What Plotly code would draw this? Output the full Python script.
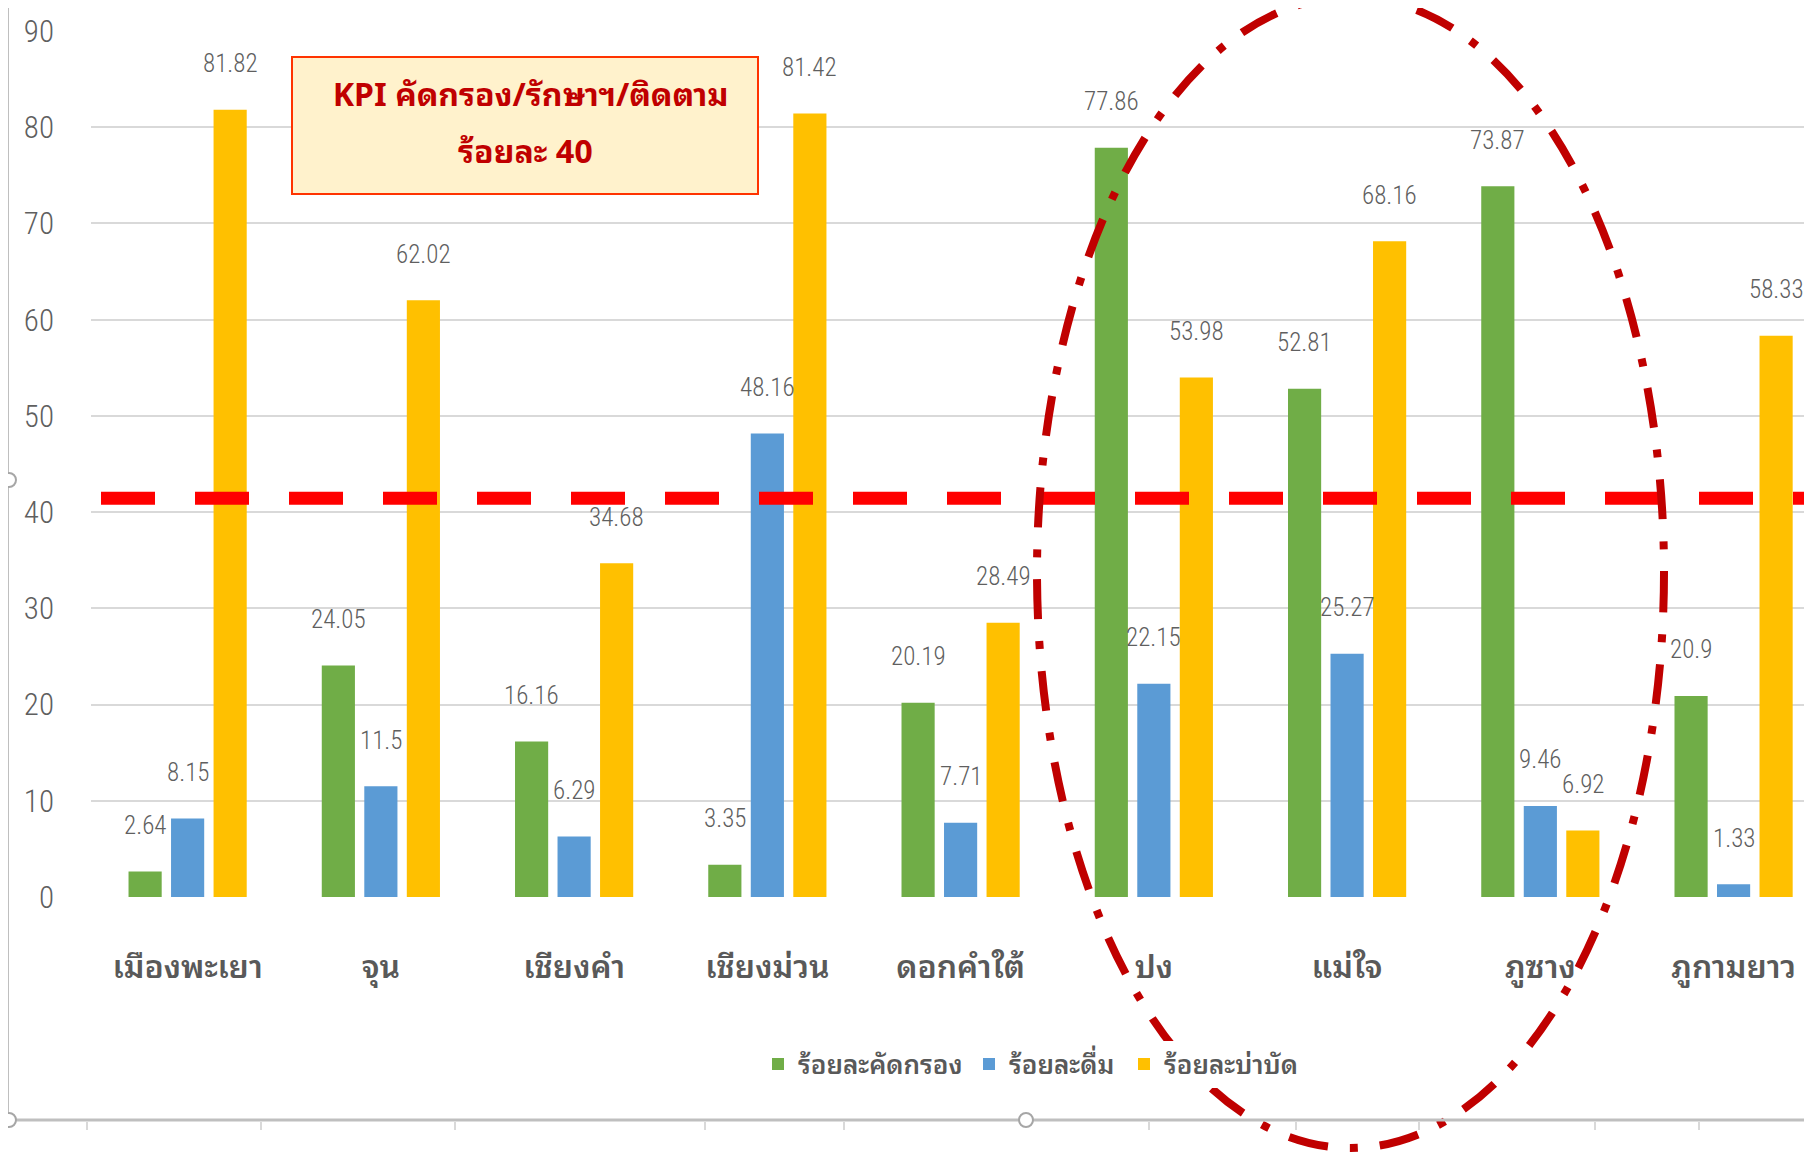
import plotly.graph_objects as go

# ข้อมูล
districts = ['เมืองพะเยา', 'จุน', 'เชียงคำ', 'เชียงม่วน', 'ดอกคำใต้', 'ปง', 'แม่ใจ', 'ภูซาง', 'ภูกามยาว']
screen_pct = [2.64, 24.05, 16.16, 3.35, 20.19, 77.86, 52.81, 73.87, 20.9]
drink_pct = [8.15, 11.5, 6.29, 48.16, 7.71, 22.15, 25.27, 9.46, 1.33]
treat_pct = [81.82, 62.02, 34.68, 81.42, 28.49, 53.98, 68.16, 6.92, 58.33]
series_names = ['ร้อยละคัดกรอง', 'ร้อยละดื่ม', 'ร้อยละบ่าบัด']
colors = ['#70AD47', '#5B9BD5', '#FFC000']
kpi_line = 41.45

# หน้าเว็บมี margin 8px รอบ body
OFF = 8
W, H = 1812 - OFF, 1153 - OFF
L, T, B = 91 - OFF, 31 - OFF, 256
plot_w = W - L
plot_h = H - T - B


def px2x(px):
    return (px - OFF - L) / plot_w


def py2y(py):
    return (H - B - (py - OFF)) / plot_h


num_font = 'Liberation Sans Narrow, Arial Narrow, Roboto Condensed, Liberation Sans'
thai_font = 'Noto Sans Thai Looped, Loma, Garuda, Noto Sans Thai, sans-serif'

fig = go.Figure()
legends = ['legend', 'legend2', 'legend3']
for name, vals, c, lg in zip(series_names, [screen_pct, drink_pct, treat_pct], colors, legends):
    fig.add_trace(go.Bar(x=districts, y=vals, name=name, legend=lg, showlegend=True,
                         marker=dict(color=c, line=dict(width=0))))

# ป้ายค่า
slot = 42.5
for k, vals in enumerate([screen_pct, drink_pct, treat_pct]):
    for d, v in zip(districts, vals):
        fig.add_annotation(x=d, y=v, text=f'{v:g}', showarrow=False,
                           xshift=(k - 1) * slot, yshift=46, yanchor='middle',
                           font=dict(family=num_font, size=25, color='#5F5F5F', weight=300))

# เส้น KPI
fig.add_shape(type='line', xref='paper', yref='y', x0=px2x(101), x1=1.0, y0=kpi_line, y1=kpi_line,
              line=dict(color='#FF0000', width=13, dash='54px,40px'))

# กล่องข้อความ KPI
fig.add_shape(type='rect', xref='paper', yref='paper', x0=px2x(292), x1=px2x(758), y0=py2y(194), y1=py2y(57),
              fillcolor='#FFF2CC', line=dict(color='#FF3300', width=2), layer='above')
fig.add_annotation(xref='paper', yref='paper', x=px2x(530), y=py2y(92), xanchor='center', yanchor='middle',
                   text='KPI คัดกรอง/รักษาฯ/ติดตาม', showarrow=False,
                   font=dict(family=thai_font, size=32, color='#C00000', weight='bold'))
fig.add_annotation(xref='paper', yref='paper', x=px2x(525), y=py2y(149), xanchor='center', yanchor='middle',
                   text='ร้อยละ 40', showarrow=False,
                   font=dict(family=thai_font, size=32, color='#C00000', weight='bold'))

# วงรี
fig.add_shape(type='circle', xref='paper', yref='paper', x0=px2x(1037), x1=px2x(1664), y0=py2y(1148), y1=py2y(-3),
              line=dict(color='#C00000', width=8, dash='40px,22px,8px,22px'), layer='above')

# กรอบ
frame = '#BFBFBF'
fig.add_shape(type='line', xref='paper', yref='paper', x0=px2x(8), x1=px2x(8), y0=py2y(1120), y1=py2y(0),
              line=dict(color=frame, width=2))
fig.add_shape(type='line', xref='paper', yref='paper', x0=px2x(8), x1=1.0, y0=py2y(1120), y1=py2y(1120),
              line=dict(color=frame, width=3))
for tx in [87, 261, 455, 705, 844, 1149, 1296, 1419, 1595, 1699]:
    fig.add_shape(type='line', xref='paper', yref='paper', x0=px2x(tx), x1=px2x(tx), y0=py2y(1122), y1=py2y(1130),
                  line=dict(color='#D9D9D9', width=2))
for hx, hy in [(9, 480), (9, 1120), (1026, 1120)]:
    fig.add_shape(type='circle', xref='paper', yref='paper', x0=px2x(hx - 7), x1=px2x(hx + 7),
                  y0=py2y(hy + 7), y1=py2y(hy - 7), fillcolor='white', line=dict(color='#A6A6A6', width=2))

leg_style = dict(orientation='h', xanchor='left', yanchor='middle', y=py2y(1064), visible=True,
                 font=dict(family=thai_font, size=26, color='#595959', weight=600), itemwidth=30)
fig.update_layout(
    width=W, height=H,
    margin=dict(l=L, r=0, t=T, b=B),
    paper_bgcolor='white', plot_bgcolor='white',
    showlegend=True,
    barmode='group', bargap=0.34, bargroupgap=0.22,
    font=dict(family=num_font, color='#595959'),
    legend=dict(x=px2x(758), **leg_style),
    legend2=dict(x=px2x(969), **leg_style),
    legend3=dict(x=px2x(1124), **leg_style),
)
fig.update_xaxes(type='category', range=[-0.5, (W + OFF - 188) / 193.2], showgrid=False, showline=False,
                 ticks='', ticklabelstandoff=48,
                 tickfont=dict(family=thai_font, size=32, color='#595959', weight=600))
fig.update_yaxes(range=[0, 90], dtick=10, showgrid=True, gridcolor='#D9D9D9', gridwidth=2,
                 zeroline=False, showline=False, ticks='', ticklabelstandoff=36,
                 tickfont=dict(family=num_font, size=31, color='#5F5F5F', weight=300))

fig.write_html('out.html')
